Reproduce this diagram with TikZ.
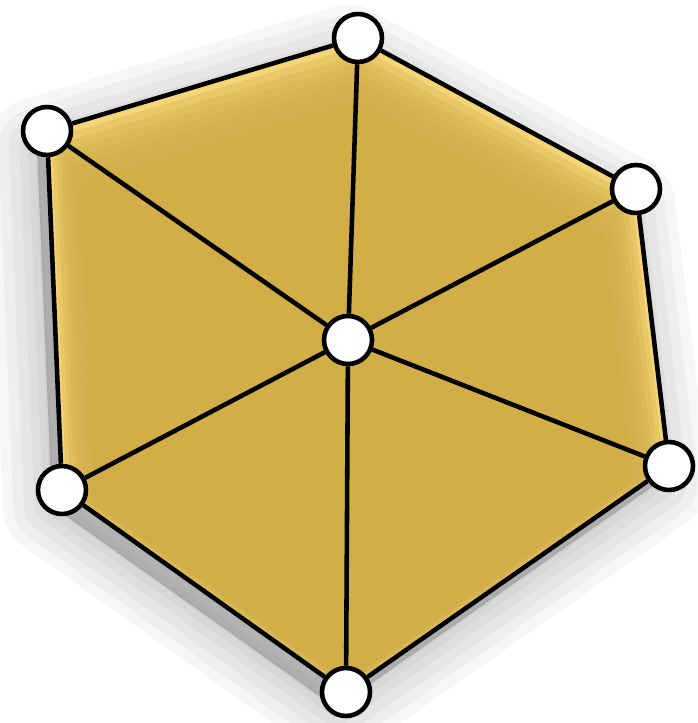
\documentclass[tikz,border=0pt]{standalone}
\usepackage{xcolor}
\usepackage{tikz}
\usetikzlibrary{calc}

\definecolor{goldfill}{RGB}{209, 174, 72}
\definecolor{goldlight}{RGB}{246, 213, 120}
\definecolor{shadowgray}{RGB}{80, 80, 80}

% outline of the hexagon, in pixel units
\newcommand{\hexoutline}{(358,38) -- (636,189) -- (669,466) -- (346,692) -- (62,490) -- (47,131) -- cycle}

\begin{document}
\begin{tikzpicture}[x=0.02cm, y=-0.02cm,
  vertex/.style={circle, draw=black, fill=white, line width=2.6pt, minimum size=0.96cm, inner sep=0pt},
  spoke/.style={black, line width=2.6pt}]

\useasboundingbox (0,0) rectangle (697,723);

% Drop shadow
\begin{scope}[shift={(-10,16)}]
\foreach \w in {56,44,32,20,10,2}
  \draw[shadowgray, opacity=0.05, line width=\w pt, line join=round] \hexoutline;
\fill[shadowgray, opacity=0.3] \hexoutline;
\end{scope}

% Gold body, lighter towards the upper rim
\fill[goldlight] \hexoutline;
\foreach \s in {0.985,0.97,0.955,0.94,0.925,0.91}
  \fill[goldfill, opacity=0.33, scale around={\s:(348,600)}] \hexoutline;
\fill[goldfill, scale around={0.89:(348,600)}] \hexoutline;

% Vertices
\node[vertex] (hub) at (348,340) {};
\node[vertex] (top) at (358,38) {};
\node[vertex] (upright) at (636,189) {};
\node[vertex] (lowright) at (669,466) {};
\node[vertex] (bottom) at (346,692) {};
\node[vertex] (lowleft) at (62,490) {};
\node[vertex] (upleft) at (47,131) {};

% Rim
\draw[spoke] (top) -- (upright);
\draw[spoke] (upright) -- (lowright);
\draw[spoke] (lowright) -- (bottom);
\draw[spoke] (bottom) -- (lowleft);
\draw[spoke] (lowleft) -- (upleft);
\draw[spoke] (upleft) -- (top);

% Spokes
\foreach \v in {top,upright,lowright,bottom,lowleft,upleft}
  \draw[spoke] (hub) -- (\v);

\end{tikzpicture}
\end{document}
